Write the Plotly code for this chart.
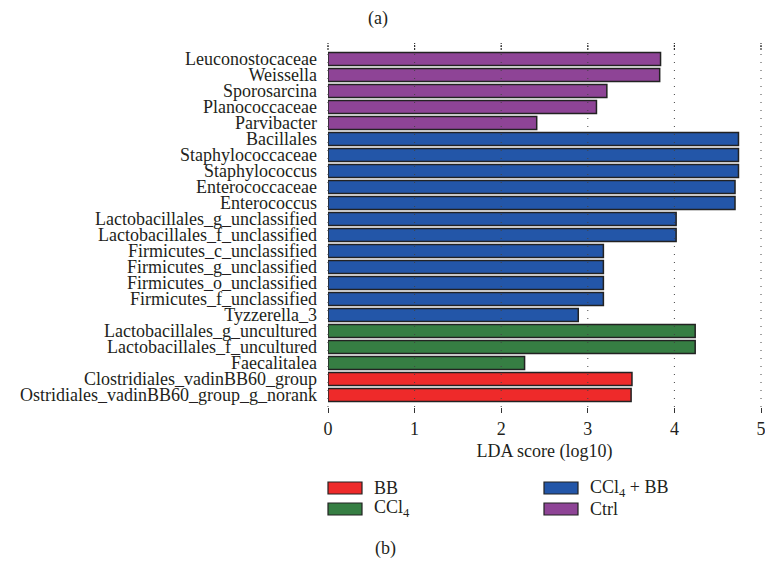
import plotly.graph_objects as go

# ---------------- data ----------------
taxa = [
    "Leuconostocaceae", "Weissella", "Sporosarcina", "Planococcaceae", "Parvibacter",
    "Bacillales", "Staphylococcaceae", "Staphylococcus", "Enterococcaceae", "Enterococcus",
    "Lactobacillales_g_unclassified", "Lactobacillales_f_unclassified",
    "Firmicutes_c_unclassified", "Firmicutes_g_unclassified", "Firmicutes_o_unclassified",
    "Firmicutes_f_unclassified", "Tyzzerella_3",
    "Lactobacillales_g_uncultured", "Lactobacillales_f_uncultured", "Faecalitalea",
    "Clostridiales_vadinBB60_group", "Ostridiales_vadinBB60_group_g_norank",
]
lda = [3.84, 3.83, 3.22, 3.10, 2.41,
       4.74, 4.74, 4.74, 4.70, 4.70,
       4.02, 4.02,
       3.18, 3.18, 3.18, 3.18, 2.89,
       4.24, 4.24, 2.27,
       3.51, 3.50]
group = ["Ctrl"] * 5 + ["CCl4 + BB"] * 12 + ["CCl4"] * 3 + ["BB"] * 2

groups = ["BB", "CCl4", "CCl4 + BB", "Ctrl"]
group_labels = ["BB", "CCl<sub>4</sub>", "CCl<sub>4</sub> + BB", "Ctrl"]
group_colors = ["#EE2A2A", "#367E43", "#2356A8", "#8E4496"]

x_ticks = [0, 1, 2, 3, 4, 5]
# --------------------------------------

W, H = 765, 563
L, R, T, B = 328, 761, 43, 407
FONT = "Liberation Serif"
TXT = "#231F20"
FS = 18
X_RANGE = [0, 5]

def px_x(px):
    return (px - L) / (R - L)

def px_y(py):
    return (B - py) / (B - T)

fig = go.Figure()
cmap = dict(zip(groups, group_colors))
fig.add_trace(go.Bar(
    x=lda, y=taxa, orientation="h",
    marker=dict(color=[cmap[g] for g in group], line=dict(color="#222222", width=1.5)),
    showlegend=False, hoverinfo="x+y",
))

n = len(taxa)
shapes = []
for t in x_ticks:
    xp = (t - X_RANGE[0]) / (X_RANGE[1] - X_RANGE[0])
    # dotted grid lines drawn above bars
    shapes.append(dict(type="line", xref="paper", yref="paper", x0=xp, x1=xp, y0=0, y1=1,
                       line=dict(color="#444444", width=1, dash="1px,7px"), layer="above"))
    # top tick marks
    shapes.append(dict(type="line", xref="paper", yref="paper", x0=xp, x1=xp,
                       y0=px_y(T + 7), y1=1,
                       line=dict(color="#333333", width=1.2, dash="2px,1px"), layer="above"))

annotations = []
# custom legend (two columns)
legend_pos = [(0, 0), (0, 1), (1, 0), (1, 1)]  # (column, row)
col_x = [328, 544]
row_y = [488, 509]
for (c, r), lab, col in zip(legend_pos, group_labels, group_colors):
    x0 = col_x[c]
    yc = row_y[r]
    shapes.append(dict(type="rect", xref="paper", yref="paper",
                       x0=px_x(x0), x1=px_x(x0 + 34), y0=px_y(yc + 6), y1=px_y(yc - 6),
                       fillcolor=col, line=dict(color="#222222", width=1.2)))
    annotations.append(dict(text=lab, xref="paper", yref="paper", x=px_x(x0 + 44), y=px_y(yc),
                            xanchor="left", yanchor="middle", showarrow=False,
                            font=dict(family=FONT, size=FS, color=TXT)))

annotations.append(dict(text="(a)", xref="paper", yref="paper", x=px_x(378), y=px_y(18),
                        xanchor="center", yanchor="middle", showarrow=False,
                        font=dict(family=FONT, size=FS, color=TXT)))
annotations.append(dict(text="(b)", xref="paper", yref="paper", x=px_x(385), y=px_y(548),
                        xanchor="center", yanchor="middle", showarrow=False,
                        font=dict(family=FONT, size=FS, color=TXT)))

fig.update_layout(
    width=W, height=H,
    margin=dict(l=L, r=W - R, t=T, b=H - B, pad=0),
    paper_bgcolor="white", plot_bgcolor="white",
    bargap=0.19,
    font=dict(family=FONT, size=FS, color=TXT),
    shapes=shapes, annotations=annotations,
    showlegend=False,
)
fig.update_xaxes(
    range=X_RANGE, tickmode="array", tickvals=x_ticks, ticktext=[str(t) for t in x_ticks],
    showgrid=False, zeroline=False, showline=False, automargin=False,
    ticklabeloverflow="allow",
    ticks="outside", ticklen=5, tickcolor="#333333", tickwidth=1.2,
    tickfont=dict(family=FONT, size=FS, color=TXT),
    title=dict(text="LDA score (log10)", font=dict(family=FONT, size=FS, color=TXT), standoff=6),
)
fig.update_yaxes(
    type="category", categoryorder="array", categoryarray=taxa,
    tickmode="array", tickvals=taxa, ticktext=taxa,
    range=[n - 1 + 0.75, -1.0],
    showgrid=False, zeroline=False, showline=False, ticks="", automargin=False,
    ticklabelstandoff=10,
    tickfont=dict(family=FONT, size=FS, color=TXT),
)

fig.write_html("out.html", config={"displayModeBar": False},
               post_script="document.body.style.margin='0px';document.body.style.overflow='hidden';")
